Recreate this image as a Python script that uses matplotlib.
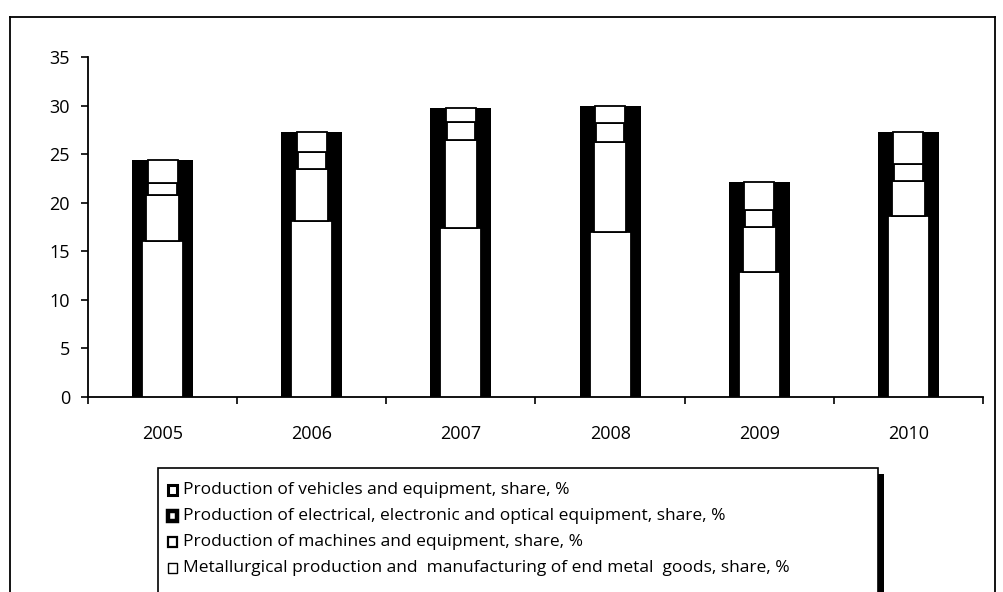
import matplotlib
matplotlib.use("Agg")
import matplotlib.pyplot as plt
from matplotlib.patches import Rectangle
import numpy as np

years = ["2005", "2006", "2007", "2008", "2009", "2010"]
metallurgical = [16.1, 18.1, 17.4, 17.0, 12.9, 18.6]
machines = [4.7, 5.4, 9.1, 9.3, 4.6, 3.6]
electrical = [1.2, 1.7, 1.8, 1.9, 1.7, 1.8]
vehicles = [2.4, 2.1, 1.5, 1.8, 2.9, 3.3]

legend_labels = [
    "Production of vehicles and equipment, share, %",
    "Production of electrical, electronic and optical equipment, share, %",
    "Production of machines and equipment, share, %",
    "Metallurgical production and  manufacturing of end metal  goods, share, %",
]

plt.rcParams['font.family'] = ['Open Sans', 'DejaVu Sans']

W, H = 1004, 592
fig = plt.figure(figsize=(W / 100, H / 100), dpi=100)
fig.patch.set_facecolor("white")

# outer chart frame
fig.add_artist(plt.Line2D([10 / W, 995 / W], [1 - 17 / H, 1 - 17 / H], color="black", lw=1.3, transform=fig.transFigure))
fig.add_artist(plt.Line2D([10 / W, 10 / W], [0, 1 - 17 / H], color="black", lw=1.3, transform=fig.transFigure))
fig.add_artist(plt.Line2D([995 / W, 995 / W], [0, 1 - 17 / H], color="black", lw=1.3, transform=fig.transFigure))

ax = fig.add_axes([88 / W, 1 - 397 / H, (983 - 88) / W, (397 - 57) / H])
x = np.arange(len(years))

series = [metallurgical, machines, electrical, vehicles]
inner_w = [0.275, 0.22, 0.19, 0.2]
outer_w = 0.41
bottom = np.zeros(len(years))
for vals, iw in zip(series, inner_w):
    vals = np.array(vals)
    ax.bar(x, vals, width=outer_w, bottom=bottom, color="black", edgecolor="none", zorder=2)
    ax.bar(x, vals, width=iw, bottom=bottom, color="white", edgecolor="black", linewidth=1.3, zorder=3)
    bottom = bottom + vals

ax.set_xlim(-0.5, len(years) - 0.5)
ax.set_ylim(0, 35)
ax.set_yticks(np.arange(0, 36, 5))
ax.set_xticks(x)
ax.set_xticklabels(years)
ax.set_xticks(np.arange(-0.5, len(years)), minor=True)
ax.tick_params(axis="x", which="major", length=0, pad=20, labelsize=13)
ax.tick_params(axis="x", which="minor", length=5, width=1.2, direction="out")
ax.tick_params(axis="y", length=5, width=1.2, direction="out", labelsize=13, pad=8)
for s in ["top", "right"]:
    ax.spines[s].set_visible(False)
for s in ["left", "bottom"]:
    ax.spines[s].set_linewidth(1.3)
ax.set_facecolor("none")

# legend box with shadow
lx0, lx1, ly0, ly1 = 158, 878, 468, 593
fig.add_artist(Rectangle(((lx0 + 6) / W, 1 - (ly1 + 6) / H), (lx1 - lx0) / W, (ly1 - ly0) / H,
                         transform=fig.transFigure, facecolor="black", edgecolor="none", zorder=1))
fig.add_artist(Rectangle((lx0 / W, 1 - ly1 / H), (lx1 - lx0) / W, (ly1 - ly0) / H,
                         transform=fig.transFigure, facecolor="white", edgecolor="black", lw=1.2, zorder=2))
marker_lw = [2.2, 3.2, 1.6, 1.0]
ys = [490, 516, 542, 568]
for lab, yy, mlw in zip(legend_labels, ys, marker_lw):
    fig.add_artist(Rectangle((168 / W, 1 - (yy + 5) / H), 9 / W, 10 / H, transform=fig.transFigure,
                             facecolor="white", edgecolor="black", lw=mlw, zorder=3))
    fig.text(183 / W, 1 - yy / H, lab, fontsize=12.5, va="center", ha="left", zorder=4)

fig.savefig("out.png", dpi=100)
